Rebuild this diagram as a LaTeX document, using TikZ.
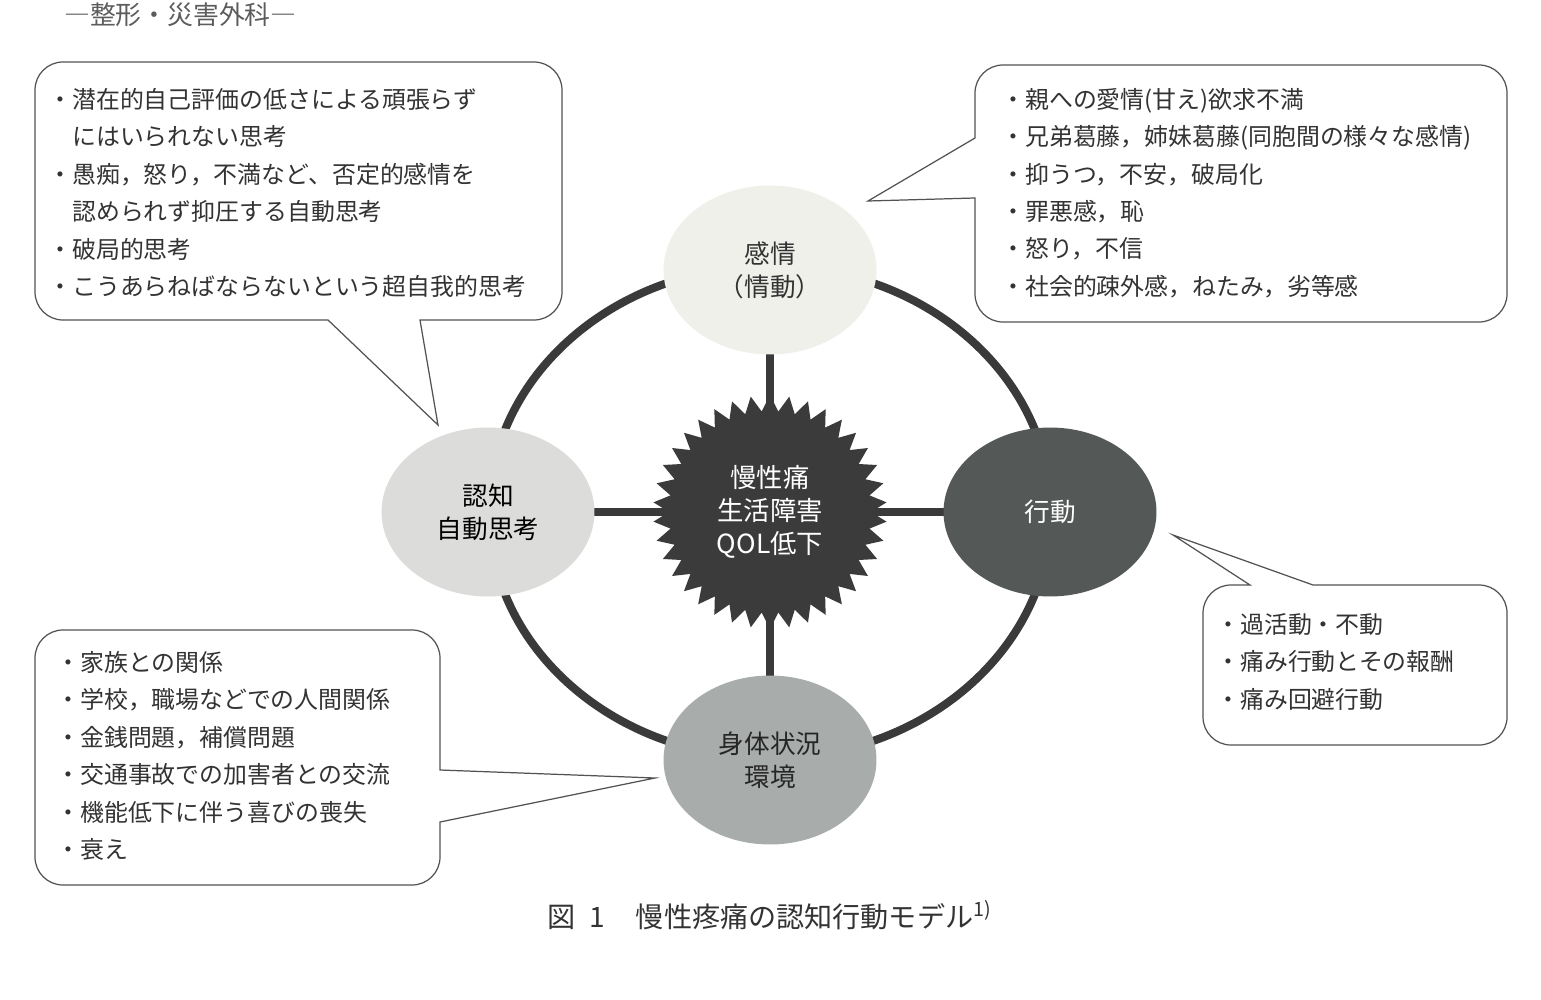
\documentclass[tikz,border=0pt]{standalone}
\usepackage{fontspec}
\setmainfont{Noto Sans CJK JP}
\usetikzlibrary{shapes.geometric,backgrounds}
\definecolor{ink}{HTML}{333333}
\definecolor{ringgrey}{HTML}{3A3A3A}
\definecolor{emofill}{HTML}{F0F0EB}
\definecolor{cogfill}{HTML}{DCDDDA}
\definecolor{behfill}{HTML}{545957}
\definecolor{bodyfill}{HTML}{A8ADAC}
\definecolor{corefill}{HTML}{3B3B3B}
\tikzset{
  sat/.style={ellipse, minimum width=4.26cm, minimum height=3.38cm, inner sep=0pt,
    align=center, font=\fontsize{14.6}{18.7}\selectfont},
  spoke/.style={line width=4.6pt, draw=ringgrey},
  note/.style={anchor=west, align=left, inner sep=0pt, text=ink,
    font=\fontsize{13.6}{21.3}\selectfont},
  balloon/.style={draw=ink!85, line width=0.7pt}
}
\begin{document}
\begin{tikzpicture}[x=0.02cm,y=-0.02cm]
\useasboundingbox (0,0) rectangle (1541,1000);
\node[anchor=west, text=ink!80, font=\fontsize{14.7}{16}\selectfont] (head) at (58,15) {―整形・災害外科―};
% model
\node[sat, fill=emofill, text=ink] (emo) at (770,270) {感情\\（情動）};
\node[sat, fill=cogfill, text=black] (cog) at (488,512) {認知\\自動思考};
\node[sat, fill=behfill, text=white] (beh) at (1050,512) {行動};
\node[sat, fill=bodyfill, text=black!85] (body) at (770,760) {身体状況\\環境};
\node[star, star points=38, star point ratio=1.16, minimum size=4.68cm, inner sep=0pt,
  fill=corefill, text=white, align=center, font=\fontsize{15}{18.7}\selectfont]
  (core) at (770,512) {慢性痛\\生活障害\\QOL低下};
\begin{scope}[on background layer]
\fill[white] (0,0) rectangle (1541,1000);
\draw[spoke] (core.center) ellipse [x radius=281, y radius=246];
\foreach \s in {emo,cog,beh,body}
  \draw[spoke] (core.center) -- (\s.center);
\end{scope}
% balloons
\node[note] (cognote) at (48,193) {・潜在的自己評価の低さによる頑張らず\\\hspace*{1em}にはいられない思考\\・愚痴，怒り，不満など、否定的感情を\\\hspace*{1em}認められず抑圧する自動思考\\・破局的思考\\・こうあらねばならないという超自我的思考};
\draw[balloon] (438,425) -- (328,320) [rounded corners=0.56cm] -- (35,320) -- (35,62)
  -- (562,62) -- (562,320) [sharp corners] -- (420,320) -- cycle;
\node[note] (emonote) at (1001,193) {・親への愛情(甘え)欲求不満\\・兄弟葛藤，姉妹葛藤(同胞間の様々な感情)\\・抑うつ，不安，破局化\\・罪悪感，恥\\・怒り，不信\\・社会的疎外感，ねたみ，劣等感};
\draw[balloon] (868,201) -- (975,198) [rounded corners=0.56cm] -- (975,322) -- (1507,322)
  -- (1507,65) -- (975,65) [sharp corners] -- (975,138) -- cycle;
\node[note] (bodynote) at (56,756) {・家族との関係\\・学校，職場などでの人間関係\\・金銭問題，補償問題\\・交通事故での加害者との交流\\・機能低下に伴う喜びの喪失\\・衰え};
\draw[balloon] (655,778) -- (440,822) [rounded corners=0.56cm] -- (440,885) -- (35,885)
  -- (35,630) -- (440,630) [sharp corners] -- (440,770) -- cycle;
\node[note] (behnote) at (1216,662) {・過活動・不動\\・痛み行動とその報酬\\・痛み回避行動};
\draw[balloon] (1173,535) -- (1313,585) [rounded corners=0.56cm] -- (1507,585) -- (1507,745)
  -- (1203,745) -- (1203,585) [sharp corners] -- (1250,585) -- cycle;
% caption
\node[anchor=west, text=ink, font=\fontsize{16}{18}\selectfont] (caption) at (541,915)
  {図\hspace{0.5em}1\hspace{1.1em}慢性疼痛の認知行動モデル\textsuperscript{1)}};
\end{tikzpicture}
\end{document}
